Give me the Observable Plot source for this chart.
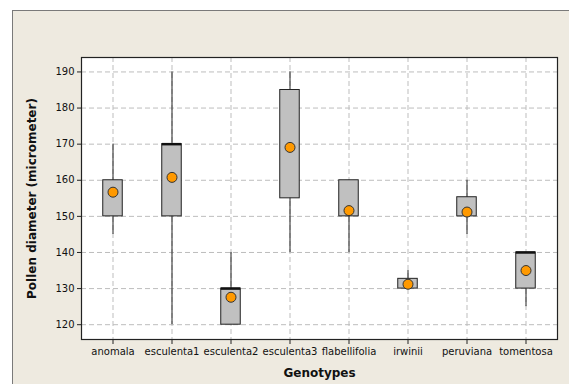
<!DOCTYPE html>
<html>
<head>
<meta charset="utf-8">
<script src="https://cdn.jsdelivr.net/npm/d3@7"></script>
<script src="https://cdn.jsdelivr.net/npm/@observablehq/plot@0.6"></script>
<style>
  html, body { margin: 0; padding: 0; background: #ffffff; }
  #wrap { position: relative; width: 569px; height: 384px; overflow: hidden; }
  #panel { position: absolute; left: 12px; top: 10px; width: 560px; height: 380px;
           background: #EEEAE0; border-top: 1px solid #7a7a7a; border-left: 1px solid #7a7a7a; }
  #chart { position: absolute; left: 0; top: 0; }
</style>
</head>
<body>
<div id="wrap"><div id="panel"></div><div id="chart"></div></div>
<script>
const genotypes = ["anomala","esculenta1","esculenta2","esculenta3","flabellifolia","irwinii","peruviana","tomentosa"];
const whiskerLow  = [145, 120, 120, 140, 140, 130, 145, 125];
const boxLow      = [150, 150, 120, 155, 150, 130, 150, 130];
const boxHigh     = [160, 170, 130, 185, 160, 132.7, 155.3, 140];
const whiskerHigh = [170, 190, 140, 190, 160, 135, 160, 140];
const medians     = [null, 170, 130, null, null, null, null, 140];
const means       = [156.7, 160.8, 127.6, 169.1, 151.6, 131.2, 151.2, 135.0];
const yTicks = [120, 130, 140, 150, 160, 170, 180, 190];

const data = genotypes.map((g, i) => ({
  g, lo: whiskerLow[i], q1: boxLow[i], q3: boxHigh[i], hi: whiskerHigh[i], med: medians[i], mean: means[i]
}));
const inset = 19.75;

const chart = Plot.plot({
  width: 569, height: 384,
  marginLeft: 81, marginTop: 57, marginRight: 12, marginBottom: 45,
  style: { background: "transparent", fontFamily: "DejaVu Sans", fontSize: "10px", color: "#111" },
  x: { domain: genotypes, padding: 0, label: null },
  y: { domain: [115.9, 194], label: null },
  marks: [
    Plot.frame({ fill: "white" }),
    Plot.gridX({ stroke: "#bdbdbd", strokeOpacity: 1, strokeDasharray: "5,3" }),
    Plot.gridY(yTicks, { stroke: "#bdbdbd", strokeOpacity: 1, strokeDasharray: "5,3" }),
    Plot.ruleX(data, { x: "g", y1: "lo", y2: "hi", stroke: "#222", strokeWidth: 1 }),
    Plot.barY(data, { x: "g", y1: "q1", y2: "q3", fill: "#C0C0C0", stroke: "#222", strokeWidth: 1, insetLeft: inset, insetRight: inset }),
    Plot.tickY(data.filter(d => d.med != null), { x: "g", y: "med", stroke: "#111", strokeWidth: 2.5, insetLeft: inset, insetRight: inset }),
    Plot.dot(data, { x: "g", y: "mean", r: 5, fill: "#FF9900", stroke: "#333", strokeWidth: 1 }),
    Plot.frame({ stroke: "#222", strokeWidth: 1.2 }),
    Plot.axisX({ tickSize: 5, tickPadding: 3, stroke: "#222" }),
    Plot.axisY(yTicks, { tickSize: 4, tickPadding: 3, stroke: "#222" }),
    Plot.text(["Genotypes"], { frameAnchor: "bottom", dy: 37, fontWeight: "bold", fontSize: 12, fill: "#111" }),
    Plot.text(["Pollen diameter (micrometer)"], { frameAnchor: "left", dx: -49, rotate: -90, textAnchor: "middle", fontWeight: "bold", fontSize: 12, fill: "#111" })
  ]
});
document.getElementById("chart").appendChild(chart);
</script>
</body>
</html>
